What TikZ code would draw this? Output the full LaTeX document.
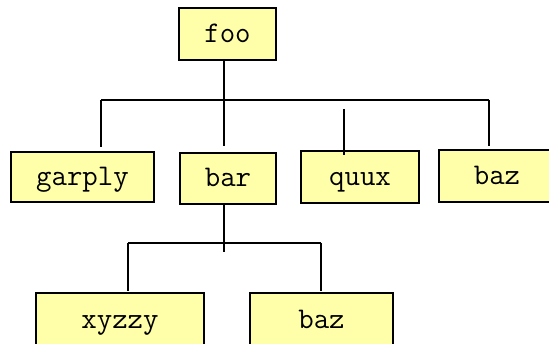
\documentclass[tikz,border=0pt]{standalone}
\usetikzlibrary{positioning}
\definecolor{paleyellow}{RGB}{255,255,170}

\begin{document}
\begin{tikzpicture}[x=1pt,y=-1pt,% image coordinates, y grows downwards
      every node/.style={
        rectangle,draw=black,line width=1.6pt,
        fill=paleyellow,inner sep=0pt,
        text height=17pt,text depth=0pt, % keeps x-height centred in the box
        font=\ttfamily\fontsize{30}{30}\selectfont
      },
      link/.style={draw,line width=1.5pt}
    ]
    \useasboundingbox (0,0) rectangle (549,344);
    \node[minimum width=97pt,minimum height=52pt](foo) at (227.5,34){foo};
    \node[minimum width=143pt,minimum height=50pt](garply) at (82.5,177){garply};
    \node[minimum width=96pt,minimum height=51pt](bar) at (228,178.5){bar};
    \node[minimum width=118pt,minimum height=52pt](quux) at (360,177){quux};
    \node[minimum width=116pt,minimum height=52pt](baz) at (497,176){baz};
    \node[minimum width=168pt,minimum height=55pt](xyzzy) at (120,320.5){xyzzy};
    \node[minimum width=143pt,minimum height=55pt](bazb) at (321.5,320.5){baz};
    \coordinate (top) at (101,100);   % upper bar, left end
    \coordinate (topr) at (489,100);  % upper bar, right end
    \coordinate (trunk) at (224,252);
    \coordinate (stub) at (344,109);
    \coordinate (low) at (128,243);   % lower bar, left end
    \coordinate (lowr) at (321,243);
    \path[link]
    (foo.south -| trunk) -- ([yshift=6pt]bar.north -| trunk)
    (top) -- (topr)
    (top) -- ([yshift=4pt]garply.north -| top)
    (topr) -- ([yshift=3pt]baz.north -| topr)
    (stub) -- ([yshift=-5pt]quux.north -| stub)
    (bar.south -| trunk) -- (trunk)
    (low) -- (lowr)
    (low) -- ([yshift=1pt]xyzzy.north -| low)
    (lowr) -- ([yshift=1pt]bazb.north -| lowr)
    ;
  \end{tikzpicture}
\end{document}
